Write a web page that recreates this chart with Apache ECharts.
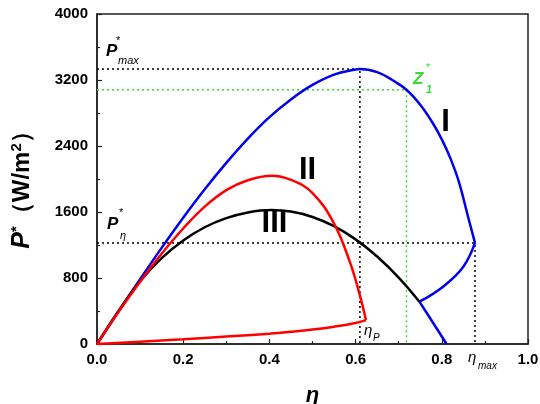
<!DOCTYPE html>
<html>
<head>
<meta charset="utf-8">
<script src="https://cdn.jsdelivr.net/npm/echarts@6/dist/echarts.min.js"></script>
<style>
  html, body { margin: 0; padding: 0; background: #fff; }
  #main { width: 540px; height: 404px; }
</style>
</head>
<body>
<div id="main"></div>
<script>
  // curve I (blue)
  var curveIUpper = [[0, 0], [0.05, 395], [0.1, 785], [0.15, 1165], [0.2, 1530], [0.25, 1875], [0.3, 2195],
    [0.35, 2490], [0.4, 2750], [0.45, 2965], [0.5, 3140], [0.55, 3265], [0.6, 3328], [0.61, 3333],
    [0.65, 3295], [0.685, 3200], [0.718, 3082], [0.75, 2900], [0.78, 2670], [0.8, 2480], [0.82, 2250],
    [0.84, 1960], [0.86, 1560], [0.877, 1225]];
  var curveILower = [[0.877, 1225], [0.85, 937], [0.803, 695], [0.748, 513]];
  var curveITail = [[0.748, 513], [0.78, 255], [0.811, 0]];
  // curve II (red), a closed loop
  var curveIITop = [[0, 0], [0.05, 390], [0.1, 755], [0.15, 1095], [0.2, 1400], [0.25, 1665], [0.3, 1865],
    [0.35, 1985], [0.405, 2040], [0.45, 1990], [0.5, 1830], [0.55, 1460], [0.587, 990], [0.61, 590], [0.624, 290]];
  var curveIIBottom = [[0.624, 290], [0.6, 255], [0.55, 210], [0.5, 175], [0.45, 148], [0.4, 125],
    [0.3, 90], [0.2, 57], [0.1, 28], [0, 0]];
  // curve III (black)
  var curveIII = [[0, 0], [0.05, 400], [0.1, 760], [0.15, 1040], [0.2, 1255], [0.25, 1415], [0.3, 1525],
    [0.35, 1595], [0.405, 1624], [0.45, 1605], [0.5, 1540], [0.55, 1428], [0.6, 1268], [0.65, 1060],
    [0.7, 805], [0.748, 513]];
  // guide lines
  var pMaxGuide = [[0, 3333], [0.61, 3333], [0.61, 0]];
  var z1Guide = [[0, 3082], [0.718, 3082], [0.718, 0]];
  var pEtaGuide = [[0, 1225], [0.877, 1225], [0.877, 0]];

  var xTicks = [0, 0.2, 0.4, 0.6, 0.8, 1.0];
  var yTicks = [0, 800, 1600, 2400, 3200, 4000];

  var myChart = echarts.init(document.getElementById('main'));
  var FONT = 'Liberation Sans, Arial, sans-serif';

  function curve(data, color) {
    return {
      type: 'line', data: data, showSymbol: false, smooth: 0.4, silent: true,
      lineStyle: { color: color, width: 2.5 }, z: 3
    };
  }
  function guide(data, color) {
    return {
      type: 'line', data: data, showSymbol: false, silent: true,
      lineStyle: { color: color, width: 1.5, type: [2, 3] }, z: 2
    };
  }
  function txt(x, y, text, size, opts) {
    opts = opts || {};
    return {
      type: 'text', x: x, y: y, z: 10, rotation: opts.rotation || 0,
      style: {
        text: text, fill: opts.color || '#000',
        font: (opts.style || 'italic') + ' ' + (opts.weight || 'normal') + ' ' + size + 'px ' + FONT,
        align: opts.align || 'left', verticalAlign: 'middle', rich: opts.rich
      }
    };
  }

  var axisCommon = {
    axisLine: { lineStyle: { color: '#222', width: 1.5 } },
    axisTick: { inside: true, length: 5, lineStyle: { color: '#222', width: 1.2 } },
    minorTick: { show: true, splitNumber: 2, length: 3, lineStyle: { color: '#222', width: 1.2 } },
    splitLine: { show: false },
    axisLabel: { color: '#000', fontSize: 15, fontWeight: 'bold', fontFamily: FONT }
  };

  var option = {
    animation: false,
    backgroundColor: '#fff',
    grid: {
      left: 97, top: 14, right: 12, bottom: 60, outerBoundsMode: 'none', containLabel: false,
      show: true, borderColor: '#222', borderWidth: 1.5
    },
    xAxis: echarts.util.merge({
      type: 'value', min: xTicks[0], max: xTicks[xTicks.length - 1], interval: 0.2,
      axisLabel: { margin: 8, formatter: function (v) { return v.toFixed(1); } },
      name: 'η', nameLocation: 'middle', nameGap: 41,
      nameTextStyle: { fontSize: 22, fontStyle: 'italic', fontWeight: 'bold', fontFamily: FONT, color: '#000' }
    }, axisCommon, false),
    yAxis: echarts.util.merge({
      type: 'value', min: yTicks[0], max: yTicks[yTicks.length - 1], interval: 800,
      axisLabel: { margin: 9, formatter: function (v) { return String(v); } }
    }, axisCommon, false),
    series: [
      guide(pMaxGuide, '#000'),
      guide(z1Guide, '#33dd33'),
      guide(pEtaGuide, '#000'),
      curve(curveIUpper, '#0000ee'),
      curve(curveILower, '#0000ee'),
      curve(curveITail, '#0000ee'),
      curve(curveIII, '#000'),
      curve(curveIITop, '#ff0000'),
      curve(curveIIBottom, '#ff0000')
    ],
    graphic: [
      // y axis title
      txt(22, 184, '{p|P}{s|*}{n|（W/m}{s|2}{n|）}', 24, {
        rotation: Math.PI / 2, align: 'center', style: 'normal', weight: 'bold',
        rich: {
          p: { font: 'italic bold 25px ' + FONT },
          s: { font: 'bold 15px ' + FONT, verticalAlign: 'top' },
          n: { font: 'bold 24px ' + FONT }
        }
      }),
      txt(106, 51, 'P', 17, { weight: 'bold' }),
      txt(116, 41, '*', 11, { style: 'normal' }),
      txt(118, 61, 'max', 11),
      txt(107, 224, 'P', 17, { weight: 'bold' }),
      txt(119, 213, '*', 11, { style: 'normal' }),
      txt(120, 236, 'η', 11),
      txt(413, 79, 'Z', 17, { weight: 'bold', color: '#33dd33' }),
      txt(426, 68, '*', 11, { style: 'normal', color: '#33dd33' }),
      txt(426, 90, '1', 11, { weight: 'bold', color: '#33dd33' }),
      txt(445.5, 122, 'I', 31, { style: 'normal', weight: 'bold', align: 'center' }),
      txt(307.5, 170, 'II', 31, { style: 'normal', weight: 'bold', align: 'center' }),
      txt(274.5, 223, 'III', 31, { style: 'normal', weight: 'bold', align: 'center' }),
      txt(364, 331, 'η', 15),
      txt(373, 338, 'P', 10),
      txt(468, 358, 'η', 15),
      txt(478, 366, 'max', 10)
    ]
  };
  myChart.setOption(option);
</script>
</body>
</html>
